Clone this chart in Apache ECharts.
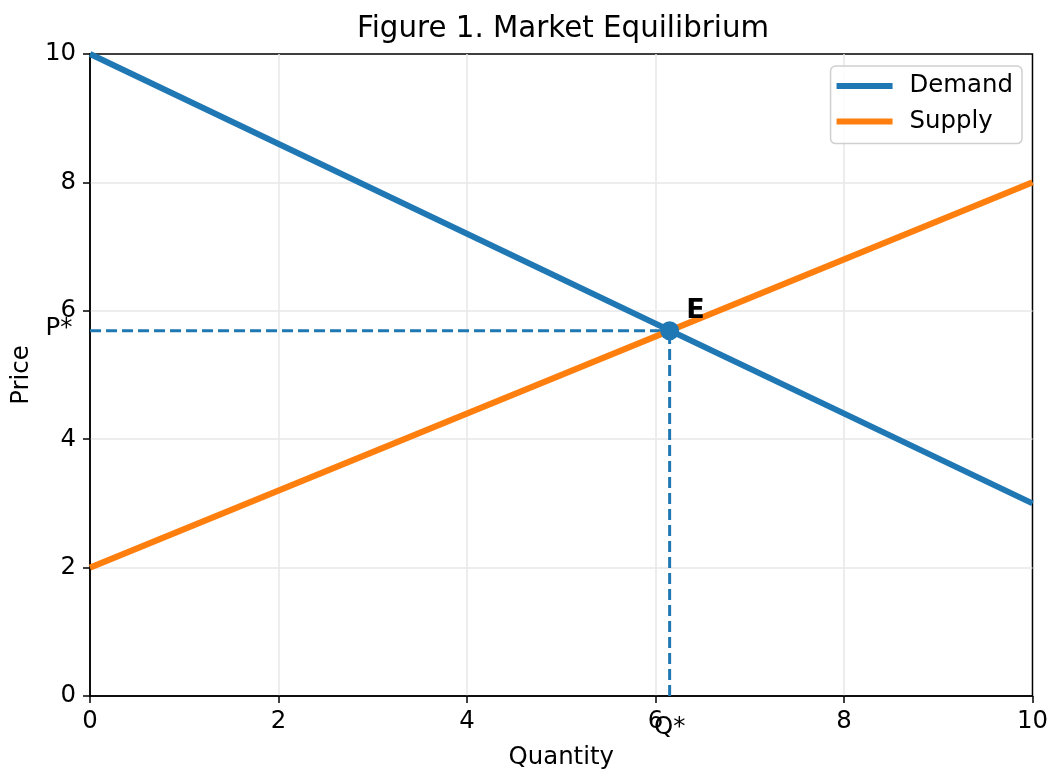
<!DOCTYPE html>
<html>
<head>
<meta charset="utf-8">
<script src="https://cdn.jsdelivr.net/npm/echarts@6/dist/echarts.min.js"></script>
<style>html,body{margin:0;padding:0;background:#fff;}#c{width:1051px;height:775px;}</style>
</head>
<body>
<div id="c"></div>
<script>
// Data
var quantity = [0, 10];
var demandPrice = [10, 3];
var supplyPrice = [2, 8];
var eqQ = 6.15;
var eqP = 5.69;
var xTicks = [0, 2, 4, 6, 8, 10];
var yTicks = [0, 2, 4, 6, 8, 10];

var FONT = 'DejaVu Sans';
var BLUE = '#1f77b4', ORANGE = '#ff7f0e';
var FS = 24.4;

function pairs(xs, ys) { return xs.map(function (x, i) { return [x, ys[i]]; }); }

var chart = echarts.init(document.getElementById('c'), null, { renderer: 'canvas' });
chart.setOption({
  animation: false,
  backgroundColor: '#fff',
  textStyle: { fontFamily: FONT },
  title: {
    text: 'Figure 1. Market Equilibrium',
    left: 357, top: 15, padding: 0,
    textStyle: { fontFamily: FONT, fontSize: 29.3, fontWeight: 'normal', color: '#000' }
  },
  legend: {
    orient: 'vertical',
    right: 29, top: 66,
    padding: [8, 9, 10, 6],
    itemGap: 11.6,
    itemWidth: 56, itemHeight: 6,
    icon: 'rect',
    borderColor: '#d0d0d0', borderWidth: 1.5, borderRadius: 5,
    backgroundColor: 'rgba(255,255,255,0.8)',
    textStyle: { fontFamily: FONT, fontSize: FS, color: '#000', padding: [0, 0, 0, 12] },
    data: ['Demand', 'Supply']
  },
  grid: {
    left: 90, right: 17, top: 54, bottom: 74,
    show: true, borderColor: '#000', borderWidth: 1.5, backgroundColor: 'transparent'
  },
  xAxis: {
    type: 'value', min: xTicks[0], max: xTicks[xTicks.length - 1], interval: 2,
    name: 'Quantity', nameLocation: 'middle', nameGap: 50,
    nameTextStyle: { fontFamily: FONT, fontSize: FS, color: '#000' },
    axisLine: { lineStyle: { color: '#000', width: 1.5 } },
    axisTick: { show: true, length: 7, lineStyle: { color: '#000', width: 1.5 } },
    axisLabel: { fontFamily: FONT, fontSize: FS, color: '#000', margin: 14 },
    splitLine: { show: true, showMinLine: false, showMaxLine: false, lineStyle: { color: '#e7e7e7', width: 1.5 } }
  },
  yAxis: {
    type: 'value', min: yTicks[0], max: yTicks[yTicks.length - 1], interval: 2,
    name: 'Price', nameLocation: 'middle', nameGap: 56,
    nameTextStyle: { fontFamily: FONT, fontSize: FS, color: '#000' },
    axisLine: { show: true, lineStyle: { color: '#000', width: 1.5 } },
    axisTick: { show: true, length: 7, lineStyle: { color: '#000', width: 1.5 } },
    axisLabel: { fontFamily: FONT, fontSize: FS, color: '#000', margin: 14 },
    splitLine: { show: true, showMinLine: false, showMaxLine: false, lineStyle: { color: '#e7e7e7', width: 1.5 } }
  },
  series: [
    {
      name: 'pLine', type: 'line', data: [[0, eqP], [eqQ, eqP]], symbol: 'none',
      lineStyle: { color: BLUE, width: 3, type: [11, 5] }, silent: true, z: 2
    },
    {
      name: 'qLine', type: 'line', data: [[eqQ, 0], [eqQ, eqP]], symbol: 'none',
      lineStyle: { color: BLUE, width: 3, type: [11, 5] }, silent: true, z: 2
    },
    {
      name: 'Demand', type: 'line', data: pairs(quantity, demandPrice), symbol: 'none',
      color: BLUE, lineStyle: { color: BLUE, width: 6 }, z: 3
    },
    {
      name: 'Supply', type: 'line', data: pairs(quantity, supplyPrice), symbol: 'none',
      color: ORANGE, lineStyle: { color: ORANGE, width: 6 }, z: 3
    },
    {
      name: 'eq', type: 'scatter', data: [[eqQ, eqP]], symbol: 'circle', symbolSize: 19,
      itemStyle: { color: BLUE, opacity: 1 }, z: 5,
      label: {
        show: true, formatter: 'E', position: 'right', distance: 0, offset: [7, -20],
        fontFamily: FONT, fontSize: 27, fontWeight: 'bold', color: '#000', opacity: 1
      }
    },
    {
      name: 'qStar', type: 'scatter', data: [[eqQ, 0]], symbol: 'circle', symbolSize: 1,
      itemStyle: { color: 'rgba(0,0,0,0)', opacity: 1 }, clip: false, z: 6,
      label: {
        show: true, formatter: 'Q*', position: 'bottom', distance: 19,
        fontFamily: FONT, fontSize: FS, color: '#000', opacity: 1
      }
    },
    {
      name: 'pStar', type: 'scatter', data: [[0, eqP]], symbol: 'circle', symbolSize: 1,
      itemStyle: { color: 'rgba(0,0,0,0)', opacity: 1 }, clip: false, z: 6,
      label: {
        show: true, formatter: 'P*', position: 'left', distance: 17, offset: [0, -2],
        fontFamily: FONT, fontSize: FS, color: '#000', opacity: 1
      }
    }
  ]
});
</script>
</body>
</html>
